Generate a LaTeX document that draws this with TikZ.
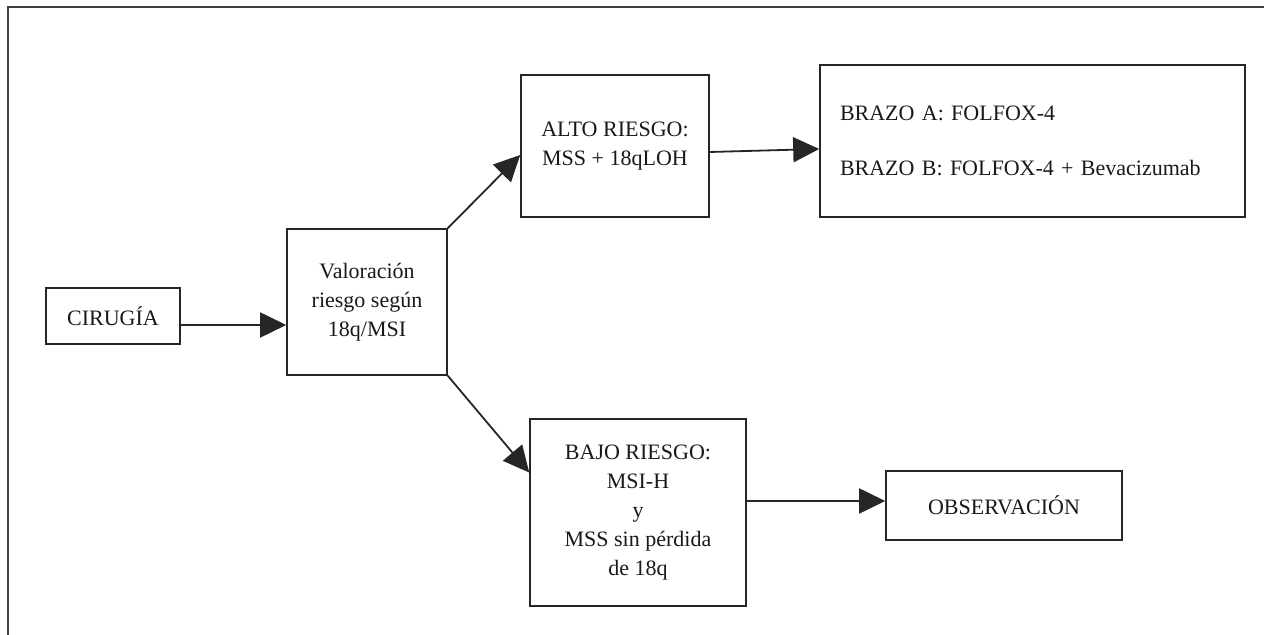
\documentclass[tikz,border=0pt]{standalone}
\usepackage{fontspec}
\setmainfont{Liberation Serif}
\usepackage{tikz}
\usetikzlibrary{arrows.meta}

\begin{document}
\begin{tikzpicture}[x=0.5pt,y=-0.5pt,
box/.style={draw=black!85,line width=0.8pt,align=center,inner sep=2pt,text=black!90,font=\fontsize{11}{14.5}\selectfont},
arr/.style={-{Triangle[length=13pt,width=12.5pt]},line width=0.9pt,draw=black!85,fill=black!85}]
\useasboundingbox (0,0) rectangle (1264,635);
\draw[line width=1pt,black!75] (8,635) -- (8,7) -- (1264,7);
\node[box,minimum width=67pt,minimum height=28pt] (cir) at (113,316) {CIRUGÍA};
\node[box,minimum width=80pt,minimum height=73pt] (val) at (367,302) {Valoración\\riesgo según\\18q/MSI};
\node[box,minimum width=94pt,minimum height=71pt] (alto) at (615,146) {ALTO RIESGO:\\MSS + 18qLOH};
\node[box,minimum width=212.5pt,minimum height=76pt,text width=192.5pt,inner xsep=10pt,align=left] (brazo) at (1032.5,141) {BRAZO A: FOLFOX-4\\[13pt]BRAZO B: FOLFOX-4 + Bevacizumab};
\node[box,minimum width=108pt,minimum height=93.5pt] (bajo) at (638,512.5) {BAJO RIESGO:\\MSI-H\\y\\MSS sin pérdida\\de 18q};
\node[box,minimum width=118pt,minimum height=34.5pt] (obs) at (1004,505.5) {OBSERVACIÓN};
\draw[arr]([yshift=-4.5pt]cir.east)--([yshift=-11.5pt]val.west);\draw[arr](val.north east)--([yshift=-4.5pt]alto.west);\draw[arr](val.south east)--([yshift=20pt]bajo.west);
\draw[arr]([yshift=-3pt]alto.east)--([yshift=-4pt]brazo.west);\draw[arr]([yshift=5.75pt]bajo.east)--([yshift=2.25pt]obs.west);
\end{tikzpicture}
\end{document}
